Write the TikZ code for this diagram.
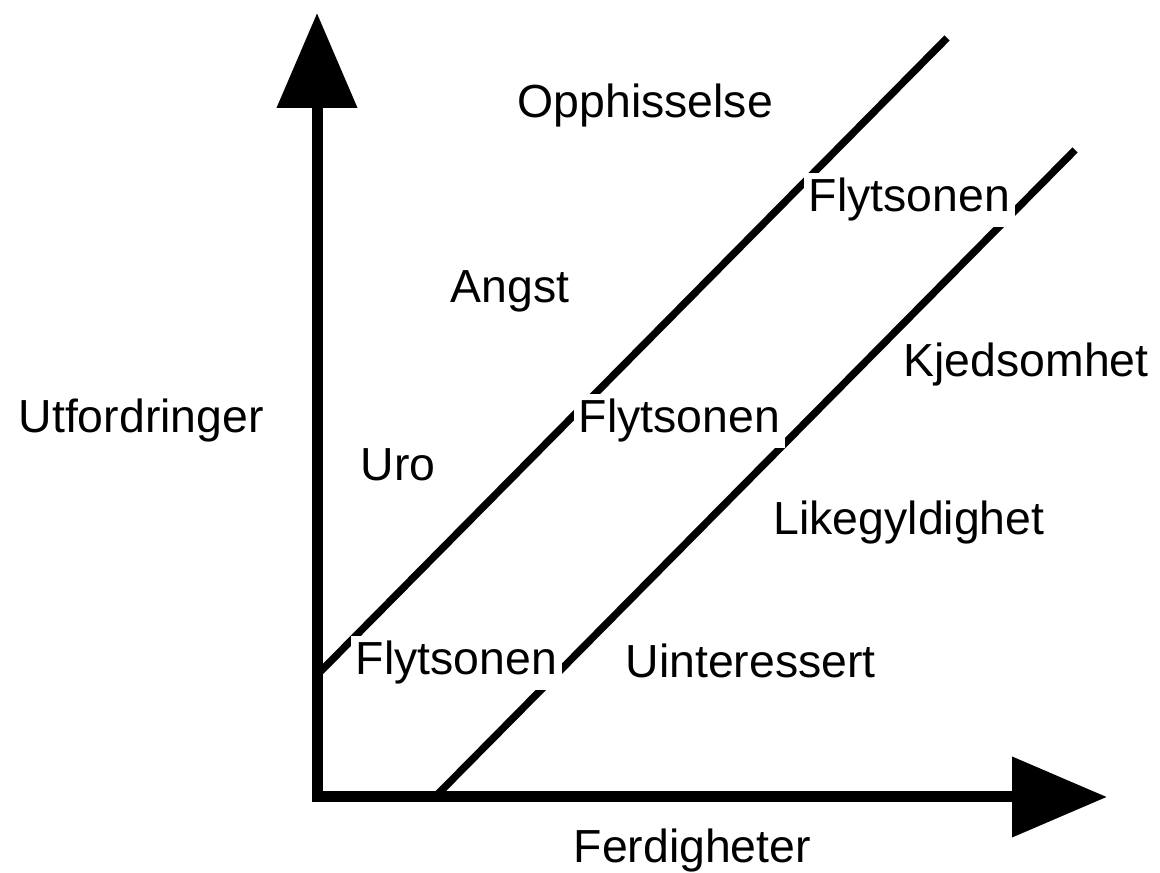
\documentclass[tikz,border=0pt]{standalone}
\usepackage{fontspec}
\setmainfont{Liberation Sans}
\usetikzlibrary{arrows.meta, positioning, calc}

\begin{document}
\begin{tikzpicture}[
    akse/.style={
        line width=0.11cm,
        {Triangle[width=7.8mm, length=9.5mm]}-{Triangle[width=7.8mm, length=9.5mm]}
    },
    grense/.style={
        line width=2.1pt
    },
    etikett/.style={
        font=\fontsize{13.2}{15}\selectfont,
        inner sep=0pt,
        anchor=base west
    },
    sone/.style={
        etikett,
        fill=white,
        inner sep=1.5pt
    }
]

\useasboundingbox (0,0) rectangle (11.6,8.73);

% ---------------- Akser ----------------

\coordinate (origo) at (3.17,0.76);
\coordinate (ytopp) at (3.17,8.60);
\coordinate (xende) at (11.07,0.76);

\draw[akse] (ytopp) -- (origo) -- (xende);

% ---------------- Grenser ----------------

\coordinate (ovreA) at (3.20,2.01);
\coordinate (ovreB) at (9.47,8.35);
\coordinate (nedreA) at (4.35,0.76);
\coordinate (nedreB) at (10.75,7.23);

\draw[grense] (ovreA) -- (ovreB);
\draw[grense] (nedreA) -- (nedreB);

% ---------------- Flytsonen ----------------

\node[sone] (flyt1) at (3.50,1.98) {Flytsonen};
\node[sone] (flyt2) at (5.73,4.40) {Flytsonen};
\node[sone] (flyt3) at (8.03,6.61) {Flytsonen};

% ---------------- Tilstander ----------------

\node[etikett] (opphisselse) at (5.17,7.55) {Opphisselse};
\node[etikett] (angst) at (4.50,5.70) {Angst};
\node[etikett] (uro) at (3.60,3.92) {Uro};
\node[etikett] (kjedsomhet) at (9.03,4.96) {Kjedsomhet};
\node[etikett] (likegyldighet) at (7.73,3.38) {Likegyldighet};
\node[etikett] (uinteressert) at (6.25,1.95) {Uinteressert};

% ---------------- Aksetitler ----------------

\node[etikett] (utfordringer) at (0.18,4.40) {Utfordringer};
\node[etikett] (ferdigheter) at (5.73,0.10) {Ferdigheter};

\end{tikzpicture}
\end{document}
